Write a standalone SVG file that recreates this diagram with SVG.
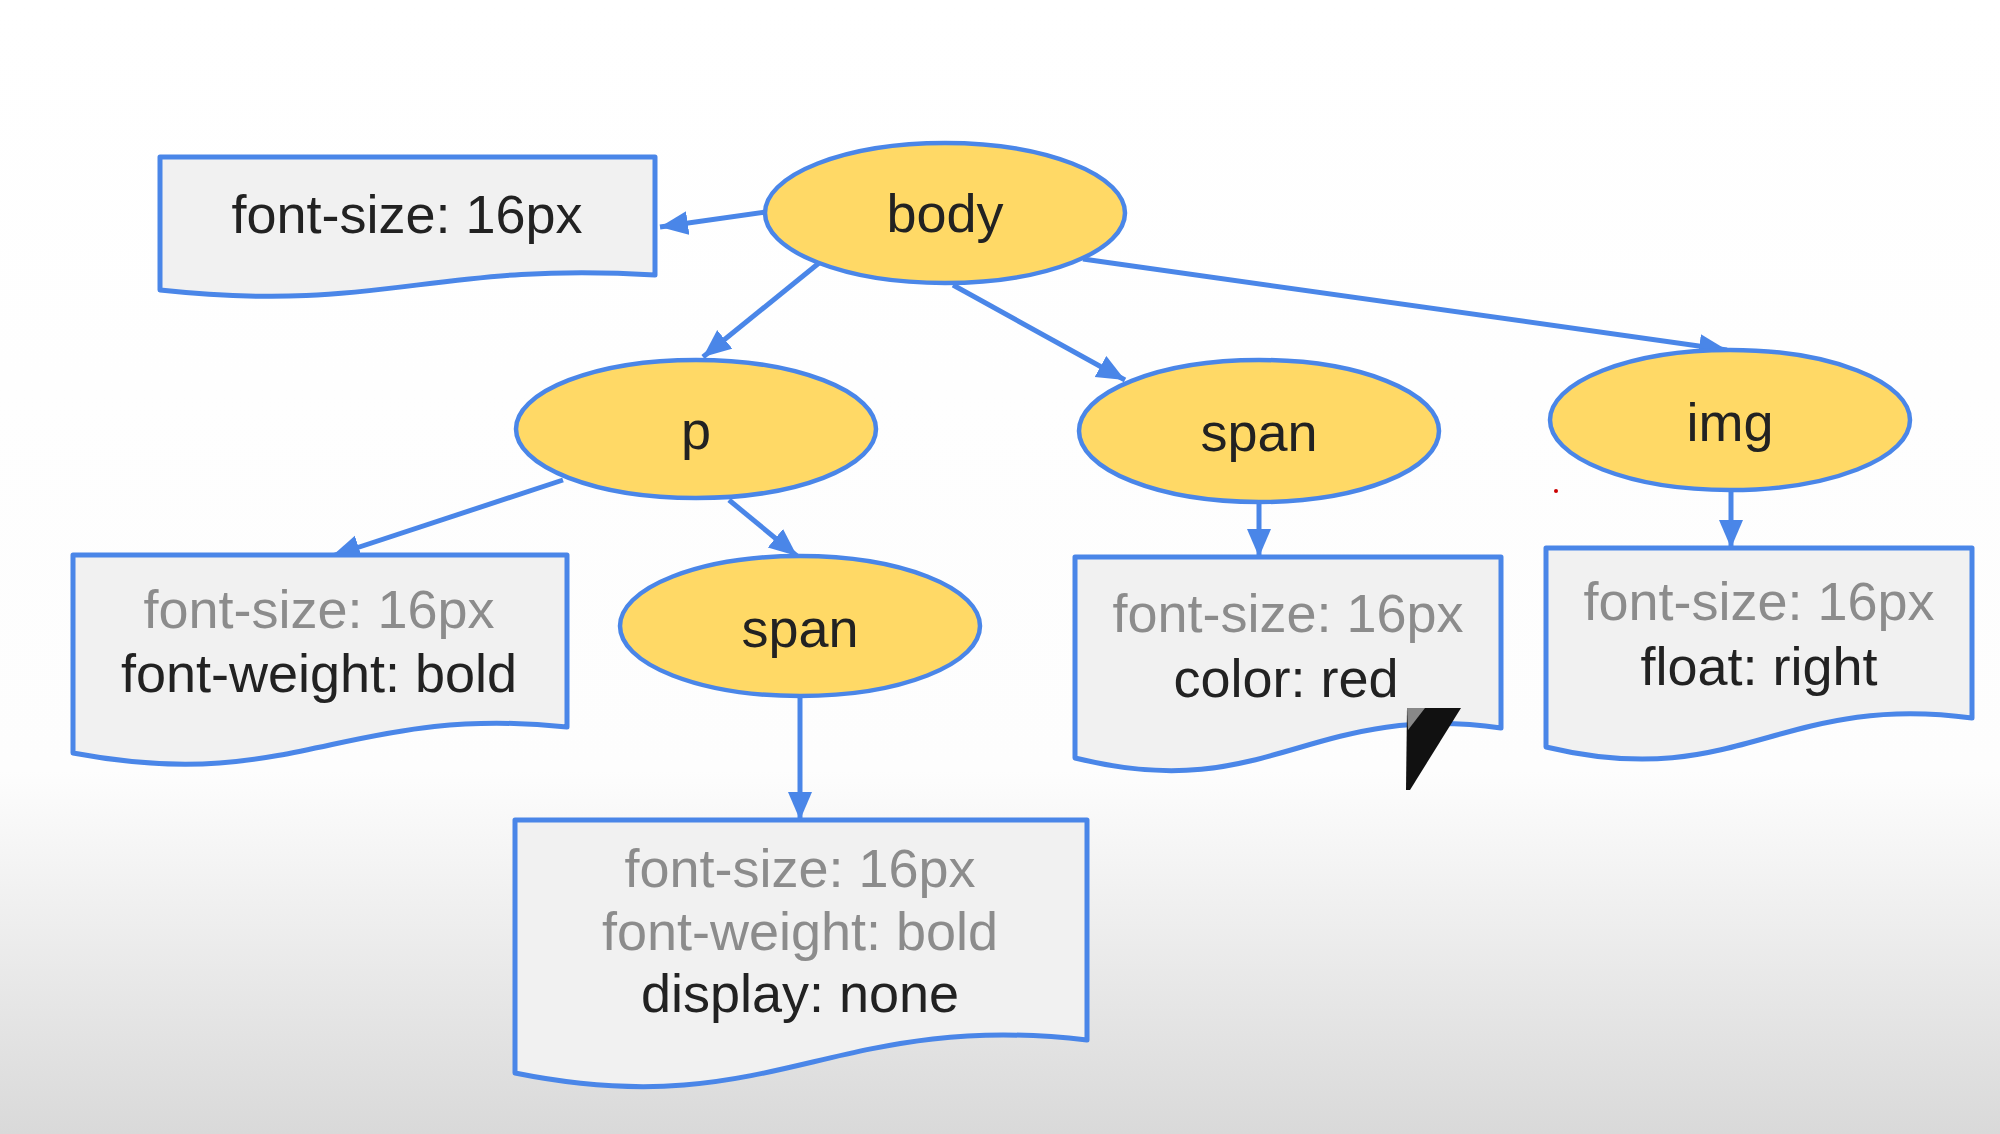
<svg xmlns="http://www.w3.org/2000/svg" width="2000" height="1134" viewBox="0 0 2000 1134">
<defs>
<linearGradient id="bg" x1="0" y1="0" x2="0" y2="1134" gradientUnits="userSpaceOnUse">
<stop offset="0" stop-color="#ffffff"/>
<stop offset="0.68" stop-color="#fdfdfd"/>
<stop offset="1" stop-color="#d9d9d9"/>
</linearGradient>
<marker id="ah" markerUnits="userSpaceOnUse" markerWidth="30" markerHeight="26" refX="28" refY="12" orient="auto">
<path d="M0,0 L28,12 L0,24 Z" fill="#4a86e8"/>
</marker>
<style>
.el{fill:#ffd966;stroke:#4a86e8;stroke-width:4.5}
.doc{fill:#f1f1f1;stroke:#4a86e8;stroke-width:5;stroke-linejoin:round}
.t{font-family:"Liberation Sans",Arial,sans-serif;font-size:54px;text-anchor:middle;fill:#222}
.g{fill:#8c8c8c}
.c{fill:none;stroke:#4a86e8;stroke-width:5;marker-end:url(#ah)}
</style>
</defs>
<rect x="0" y="0" width="2000" height="1134" fill="url(#bg)"/>
<g id="connectors">
<line class="c" x1="766" y1="212" x2="660" y2="227"/>
<line class="c" x1="819" y1="263" x2="703" y2="357"/>
<line class="c" x1="953" y1="285" x2="1125" y2="380"/>
<line class="c" x1="1083" y1="259" x2="1727" y2="350"/>
<line class="c" x1="563" y1="480" x2="332" y2="556"/>
<line class="c" x1="729" y1="500" x2="797" y2="556"/>
<line class="c" x1="800" y1="697" x2="800" y2="820"/>
<line class="c" x1="1259" y1="502" x2="1259" y2="557"/>
<line class="c" x1="1731" y1="491" x2="1731" y2="548"/>
</g>
<g id="props-body">
<path class="doc" d="M160,157 H655 V275 C432,261 383,314 160,290 Z"/>
<text class="t" x="407" y="233">font-size: 16px</text>
</g>
<g id="body">
<ellipse class="el" cx="945" cy="213" rx="180" ry="70"/>
<text class="t" x="945" y="232">body</text>
</g>
<g id="p">
<ellipse class="el" cx="696" cy="429" rx="180" ry="69"/>
<text class="t" x="696" y="449">p</text>
</g>
<g id="span1">
<ellipse class="el" cx="1259" cy="431" rx="180" ry="71"/>
<text class="t" x="1259" y="451">span</text>
</g>
<g id="img">
<ellipse class="el" cx="1730" cy="420" rx="180" ry="70"/>
<text class="t" x="1730" y="441">img</text>
</g>
<g id="span2">
<ellipse class="el" cx="800" cy="626" rx="180" ry="70"/>
<text class="t" x="800" y="647">span</text>
</g>
<g id="props-p">
<path class="doc" d="M73,555 H567 V727 C345,704 295,795 73,753 Z"/>
<text class="t g" x="319" y="628">font-size: 16px</text>
<text class="t" x="319" y="692">font-weight: bold</text>
</g>
<g id="props-span1">
<path class="doc" d="M1075,557 H1501 V728 C1309,701 1267,806 1075,758 Z"/>
<text class="t g" x="1288" y="632">font-size: 16px</text>
<text class="t" x="1286" y="697">color: red</text>
</g>
<g id="props-img">
<path class="doc" d="M1546,548 H1972 V718 C1780,692 1738,793 1546,747 Z"/>
<text class="t g" x="1759" y="620">font-size: 16px</text>
<text class="t" x="1759" y="685">float: right</text>
</g>
<g id="props-span2">
<path class="doc" d="M515,820 H1087 V1040 C830,1010 772,1125 515,1073 Z"/>
<text class="t g" x="800" y="887">font-size: 16px</text>
<text class="t g" x="800" y="950">font-weight: bold</text>
<text class="t" x="800" y="1012">display: none</text>
</g>
<circle cx="1556" cy="491" r="2" fill="#c00"/>
<polygon points="1407,708 1461,708 1410,790 1406,790" fill="#111"/>
<polygon points="1407,708 1425,708 1408,730" fill="#888"/>
</svg>
